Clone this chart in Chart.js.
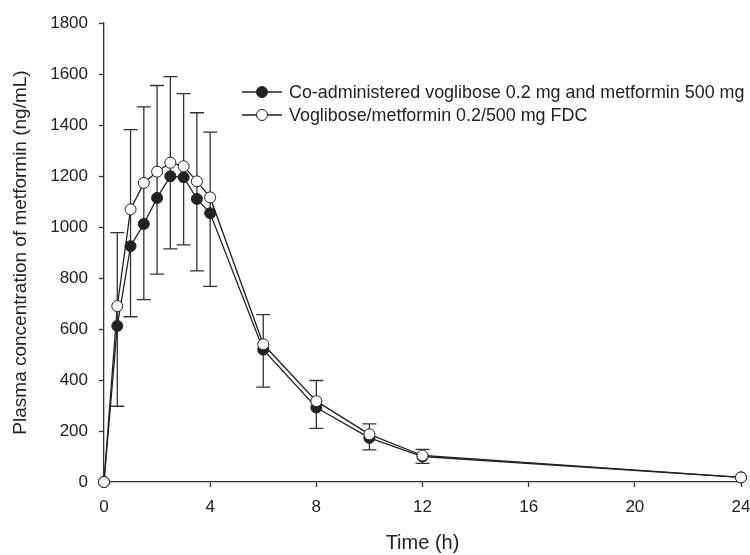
<!DOCTYPE html>
<html>
<head>
<meta charset="utf-8">
<script src="https://cdn.jsdelivr.net/npm/chart.js@4.4.1/dist/chart.umd.min.js"></script>
<style>
  html, body { margin: 0; padding: 0; background: #fff; }
  #wrap { width: 750px; height: 555px; }
</style>
</head>
<body>
<div id="wrap"><canvas id="pkChart" width="750" height="555"></canvas></div>
<script>
const times = [0, 0.5, 1, 1.5, 2, 2.5, 3, 3.5, 4, 6, 8, 10, 12, 24];

// co-administered (filled circles) - lower error bars
const coadminMean = [0, 612, 925, 1012, 1114, 1199, 1195, 1110, 1054, 519, 292, 173, 100, 18];
const coadminSD = [0, 315, 277, 297, 299, 285, 265, 282, 287, 147, 82, 47, 27, 0];

// FDC (open circles) - upper error bars
const fdcMean = [0, 690, 1069, 1173, 1217, 1252, 1238, 1179, 1116, 540, 317, 187, 104, 18];
const fdcSD = [0, 288, 313, 298, 338, 338, 285, 269, 256, 116, 81, 41, 24, 0];

const xTicks = [0, 4, 8, 12, 16, 20, 24];
const yTicks = [0, 200, 400, 600, 800, 1000, 1200, 1400, 1600, 1800];

const seriesLabels = [
  "Co-administered voglibose 0.2 mg and metformin 500 mg",
  "Voglibose/metformin 0.2/500 mg FDC",
];

const ink = "#222";
const font = "'Liberation Sans', Arial, sans-serif";

const toPoints = (ys) => times.map((t, i) => ({ x: t, y: ys[i] }));

// vertical error bars: upper from FDC, lower from co-administered
const errorBars = {
  id: "errorBars",
  beforeDatasetsDraw(chart) {
    const { ctx, scales: { x, y } } = chart;
    ctx.save();
    ctx.strokeStyle = "#333";
    ctx.lineWidth = 1.3;
    times.forEach((t, i) => {
      if (!fdcSD[i] && !coadminSD[i]) return;
      const px = x.getPixelForValue(t);
      const top = y.getPixelForValue(fdcMean[i] + fdcSD[i]);
      const bot = y.getPixelForValue(coadminMean[i] - coadminSD[i]);
      ctx.beginPath();
      ctx.moveTo(px, top);
      ctx.lineTo(px, bot);
      ctx.moveTo(px - 7, top);
      ctx.lineTo(px + 7, top);
      ctx.moveTo(px - 7, bot);
      ctx.lineTo(px + 7, bot);
      ctx.stroke();
    });
    ctx.restore();
  },
};

// Legend
const legendBox = {
  id: "legendBox",
  afterDraw(chart) {
    const { ctx } = chart;
    const rows = [
      { y: 92, fill: ink, text: seriesLabels[0] },
      { y: 115, fill: "#fff", text: seriesLabels[1] },
    ];
    ctx.save();
    rows.forEach((r) => {
      ctx.strokeStyle = ink;
      ctx.lineWidth = 1.3;
      ctx.beginPath();
      ctx.moveTo(242, r.y);
      ctx.lineTo(282, r.y);
      ctx.stroke();
      ctx.beginPath();
      ctx.arc(262, r.y, 5.5, 0, Math.PI * 2);
      ctx.fillStyle = r.fill;
      ctx.fill();
      ctx.lineWidth = 1;
      ctx.stroke();
      ctx.fillStyle = ink;
      ctx.font = `17.9px ${font}`;
      ctx.textBaseline = "middle";
      ctx.fillText(r.text, 289, r.y + 1);
    });
    ctx.restore();
  },
};

const axisCommon = {
  type: "linear",
  border: { display: true, color: "#333", width: 1.3 },
  grid: {
    display: true,
    drawOnChartArea: false,
    drawTicks: true,
    tickLength: 5,
    tickColor: "#333",
    tickWidth: 1.3,
  },
};

new Chart(document.getElementById("pkChart").getContext("2d"), {
  type: "line",
  data: {
    datasets: [
      {
        label: seriesLabels[0],
        data: toPoints(coadminMean),
        borderColor: ink,
        borderWidth: 1.3,
        pointRadius: 5.5,
        pointBackgroundColor: ink,
        pointBorderColor: ink,
        pointBorderWidth: 1,
        tension: 0,
        clip: false,
        order: 1,
      },
      {
        label: seriesLabels[1],
        data: toPoints(fdcMean),
        borderColor: ink,
        borderWidth: 1.3,
        pointRadius: 5.5,
        pointBackgroundColor: "#fff",
        pointBorderColor: ink,
        pointBorderWidth: 1,
        tension: 0,
        clip: false,
        order: 0,
      },
    ],
  },
  options: {
    responsive: false,
    animation: false,
    devicePixelRatio: 1,
    layout: { padding: { top: 23, right: 9, left: 0, bottom: 0 } },
    plugins: { legend: { display: false }, tooltip: { enabled: false } },
    scales: {
      x: {
        ...axisCommon,
        min: 0,
        max: 24,
        afterBuildTicks: (s) => { s.ticks = xTicks.map((v) => ({ value: v })); },
        afterFit: (s) => { s.height = 73; s.paddingRight = 0; },
        ticks: { color: ink, padding: 10, font: { family: font, size: 17 }, callback: (v) => String(v) },
        title: {
          display: true,
          text: "Time (h)",
          color: ink,
          padding: { top: 0, bottom: 0 },
          font: { family: font, size: 20 },
        },
      },
      y: {
        ...axisCommon,
        min: 0,
        max: 1800,
        afterBuildTicks: (s) => { s.ticks = yTicks.map((v) => ({ value: v })); },
        afterFit: (s) => { s.width = 104; },
        ticks: { color: ink, padding: 11, font: { family: font, size: 17 }, callback: (v) => String(v) },
        title: {
          display: true,
          text: "Plasma concentration of metformin (ng/mL)",
          color: ink,
          padding: { top: 9, bottom: 0 },
          font: { family: font, size: 19 },
        },
      },
    },
  },
  plugins: [errorBars, legendBox],
});
</script>
</body>
</html>
